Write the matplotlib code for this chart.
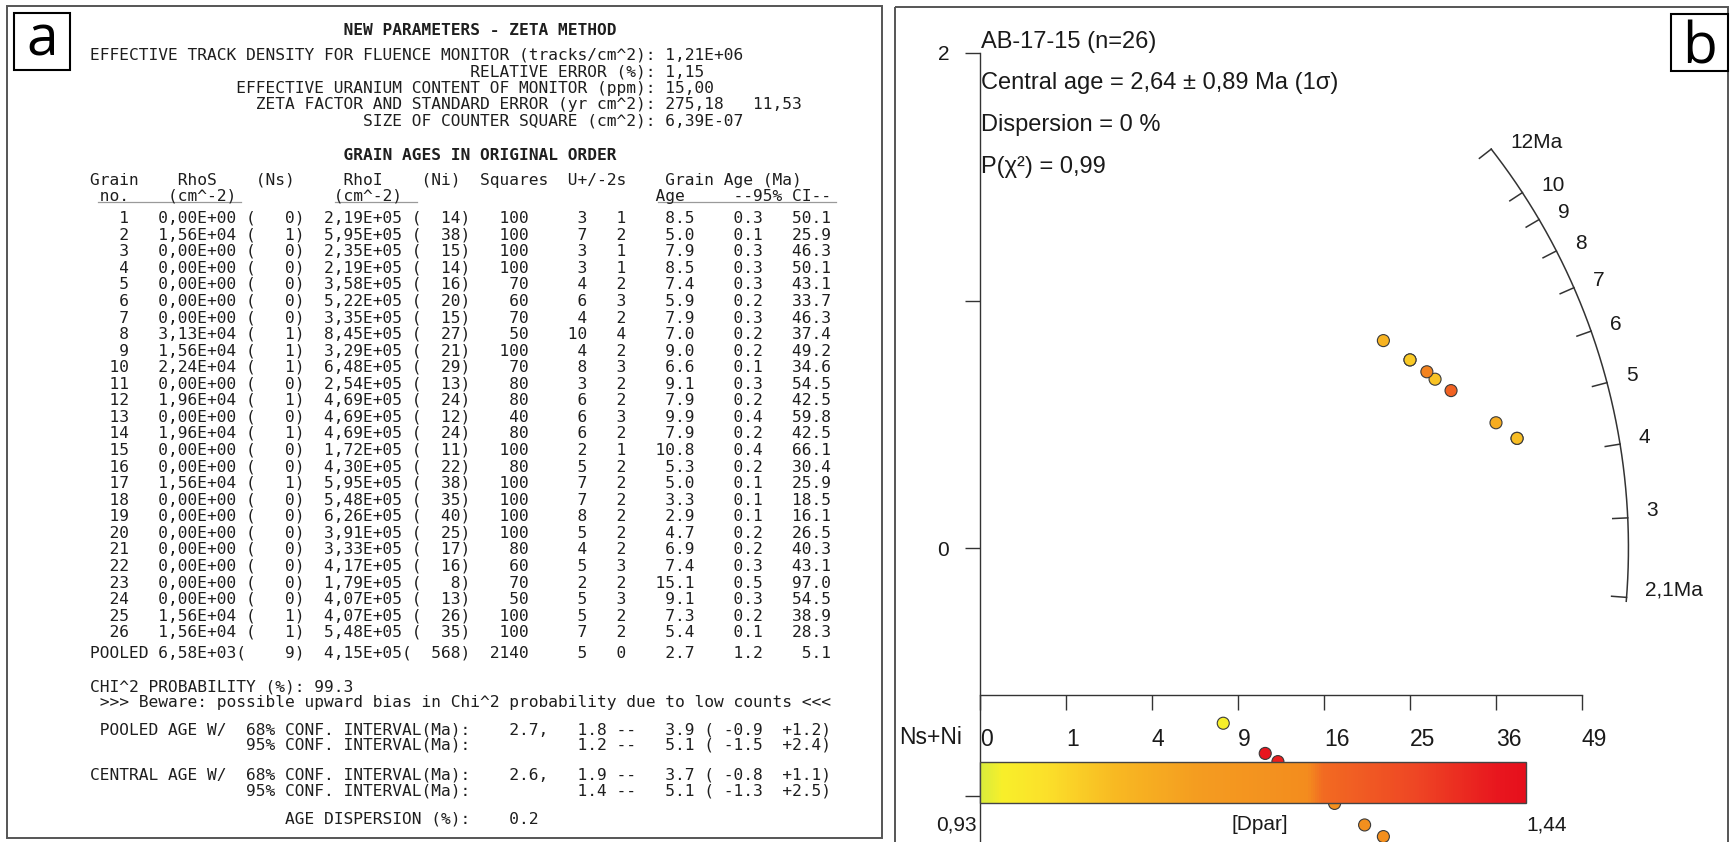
import numpy as np
import matplotlib
matplotlib.use("Agg")
import matplotlib.pyplot as plt
from matplotlib.colors import LinearSegmentedColormap, Normalize
from matplotlib.patches import Rectangle
from matplotlib.cm import ScalarMappable

plt.rcParams['font.family'] = ['Liberation Sans', 'DejaVu Sans']

# ---------------- Panel a data (zeta method table) ----------------
grain = list(range(1, 27))
rho_s = ['0,00E+00', '1,56E+04', '0,00E+00', '0,00E+00', '0,00E+00', '0,00E+00', '0,00E+00',
         '3,13E+04', '1,56E+04', '2,24E+04', '0,00E+00', '1,96E+04', '0,00E+00', '1,96E+04',
         '0,00E+00', '0,00E+00', '1,56E+04', '0,00E+00', '0,00E+00', '0,00E+00', '0,00E+00',
         '0,00E+00', '0,00E+00', '0,00E+00', '1,56E+04', '1,56E+04']
ns = [0, 1, 0, 0, 0, 0, 0, 1, 1, 1, 0, 1, 0, 1, 0, 0, 1, 0, 0, 0, 0, 0, 0, 0, 1, 1]
rho_i = ['2,19E+05', '5,95E+05', '2,35E+05', '2,19E+05', '3,58E+05', '5,22E+05', '3,35E+05',
         '8,45E+05', '3,29E+05', '6,48E+05', '2,54E+05', '4,69E+05', '4,69E+05', '4,69E+05',
         '1,72E+05', '4,30E+05', '5,95E+05', '5,48E+05', '6,26E+05', '3,91E+05', '3,33E+05',
         '4,17E+05', '1,79E+05', '4,07E+05', '4,07E+05', '5,48E+05']
ni = [14, 38, 15, 14, 16, 20, 15, 27, 21, 29, 13, 24, 12, 24, 11, 22, 38, 35, 40, 25, 17, 16, 8, 13, 26, 35]
squares = [100, 100, 100, 100, 70, 60, 70, 50, 100, 70, 80, 80, 40, 80, 100, 80, 100, 100, 100, 100,
           80, 60, 70, 50, 100, 100]
u_ppm = [3, 7, 3, 3, 4, 6, 4, 10, 4, 8, 3, 6, 6, 6, 2, 5, 7, 7, 8, 5, 4, 5, 2, 5, 5, 7]
u_2s = [1, 2, 1, 1, 2, 3, 2, 4, 2, 3, 2, 2, 3, 2, 1, 2, 2, 2, 2, 2, 2, 3, 2, 3, 2, 2]
grain_age = [8.5, 5.0, 7.9, 8.5, 7.4, 5.9, 7.9, 7.0, 9.0, 6.6, 9.1, 7.9, 9.9, 7.9, 10.8, 5.3, 5.0,
             3.3, 2.9, 4.7, 6.9, 7.4, 15.1, 9.1, 7.3, 5.4]
ci_lo = [0.3, 0.1, 0.3, 0.3, 0.3, 0.2, 0.3, 0.2, 0.2, 0.1, 0.3, 0.2, 0.4, 0.2, 0.4, 0.2, 0.1, 0.1,
         0.1, 0.2, 0.2, 0.3, 0.5, 0.3, 0.2, 0.1]
ci_hi = [50.1, 25.9, 46.3, 50.1, 43.1, 33.7, 46.3, 37.4, 49.2, 34.6, 54.5, 42.5, 59.8, 42.5, 66.1,
         30.4, 25.9, 18.5, 16.1, 26.5, 40.3, 43.1, 97.0, 54.5, 38.9, 28.3]

pooled_rho_s, pooled_ns, pooled_rho_i, pooled_ni = '6,58E+03', 9, '4,15E+05', 568
pooled_squares, pooled_u, pooled_u2s = 2140, 5, 0
pooled_age, pooled_lo, pooled_hi = 2.7, 1.2, 5.1

param_lines = [
    "EFFECTIVE TRACK DENSITY FOR FLUENCE MONITOR (tracks/cm^2): 1,21E+06",
    "                                       RELATIVE ERROR (%): 1,15",
    "               EFFECTIVE URANIUM CONTENT OF MONITOR (ppm): 15,00",
    "                 ZETA FACTOR AND STANDARD ERROR (yr cm^2): 275,18   11,53",
    "                            SIZE OF COUNTER SQUARE (cm^2): 6,39E-07",
]
title1 = "                          NEW PARAMETERS - ZETA METHOD"
title2 = "                          GRAIN AGES IN ORIGINAL ORDER"
header1 = "Grain    RhoS    (Ns)     RhoI    (Ni)  Squares  U+/-2s    Grain Age (Ma)"
header2 = " no.    (cm^-2)          (cm^-2)                          Age     --95% CI--"
chi_line = "CHI^2 PROBABILITY (%): 99.3"
beware_line = " >>> Beware: possible upward bias in Chi^2 probability due to low counts <<<"
summary_lines = [
    " POOLED AGE W/  68% CONF. INTERVAL(Ma):    2.7,   1.8 --   3.9 ( -0.9  +1.2)",
    "                95% CONF. INTERVAL(Ma):           1.2 --   5.1 ( -1.5  +2.4)",
    "CENTRAL AGE W/  68% CONF. INTERVAL(Ma):    2.6,   1.9 --   3.7 ( -0.8  +1.1)",
    "                95% CONF. INTERVAL(Ma):           1.4 --   5.1 ( -1.3  +2.5)",
    "                    AGE DISPERSION (%):    0.2",
]

# ---------------- Panel b data (radial plot) ----------------
sample_name = "AB-17-15"
central_age, central_err = 2.64, 0.89
dispersion_pct = 0
p_chi2 = 0.99
# standardised estimate of each grain
radial_y = [-0.935, 0.443, -0.968, -0.935, -1.000, -1.119, -0.968, 0.682, 0.838, 0.636, -0.900,
            0.760, -0.863, 0.760, -0.830, -1.166, 0.443, -1.480, -1.580, -1.250, -1.032, -1.000,
            -0.708, -0.900, 0.712, 0.506]
dpar = [1.10, 1.05, 1.12, 1.08, 1.15, 1.22, 1.10, 1.04, 1.07, 1.27, 1.15, 1.03, 1.40, 1.03, 1.42,
        1.22, 1.05, 1.15, 1.12, 1.10, 1.21, 1.15, 0.95, 1.10, 1.24, 1.09]
dpar_min, dpar_max = 0.93, 1.44
arc_ages = [2.1, 3, 4, 5, 6, 7, 8, 9, 10, 12]
arc_labels = ['2,1Ma', '3', '4', '5', '6', '7', '8', '9', '10', '12Ma']
nsni_ticks = [0, 1, 4, 9, 16, 25, 36, 49]
y_ticks = [-1, 0, 1, 2]
y_ticklabels = ['', '0', '', '2']

# ---------------- figure ----------------
W, H = 1730, 842
fig = plt.figure(figsize=(W / 100, H / 100), dpi=100)
fig.patch.set_facecolor('white')

bg = fig.add_axes([0, 0, 1, 1])
bg.set_xlim(0, W)
bg.set_ylim(H, 0)
bg.axis('off')

# panel frames
bg.add_patch(Rectangle((6.5, 6), 875, 832, fill=False, ec='#555555', lw=1.4))
bg.add_patch(Rectangle((895, 7), 833, 860, fill=False, ec='#555555', lw=1.4, clip_on=False))
# panel letters
bg.add_patch(Rectangle((14, 13), 56, 57, fill=False, ec='black', lw=1.5))
bg.text(42, 56, 'a', fontsize=41, family='Open Sans', ha='center', va='baseline')
bg.add_patch(Rectangle((1671, 13.5), 56.5, 57, fill=False, ec='black', lw=1.5))
bg.text(1700, 63.5, 'b', fontsize=41, family='Open Sans', ha='center', va='baseline')

# ---------------- Panel a text ----------------
mono = dict(family='DejaVu Sans Mono', fontsize=11.74, color='#1e1e1e', ha='left', va='baseline')
x0 = 90
base = 6.0


def put(y, s, **kw):
    d = dict(mono)
    d.update(kw)
    bg.text(x0, y + base, s, **d)


put(29.3, title1, weight='bold')
for k, line in enumerate(param_lines):
    put([54, 70.7, 87.3, 103.3, 120][k], line)
put(154, title2, weight='bold')
put(179, header1)
put(195, header2)
for xa, xb in [(98, 241), (335, 417), (658, 836)]:
    bg.plot([xa, xb], [202, 202], color='#9a9a9a', lw=0.9)

for i in range(len(grain)):
    row = (f"{grain[i]:>4}   {rho_s[i]} ({ns[i]:>4})  {rho_i[i]} ({ni[i]:>4})"
           f"{squares[i]:>6}{u_ppm[i]:>6}{u_2s[i]:>4}"
           f"{grain_age[i]:>7.1f}{ci_lo[i]:>7.1f}{ci_hi[i]:>7.1f}")
    put(216.7 + i * 16.56, row)
pooled = (f"POOLED {pooled_rho_s}({pooled_ns:>5})  {pooled_rho_i}({pooled_ni:>5})"
          f"{pooled_squares:>6}{pooled_u:>6}{pooled_u2s:>4}"
          f"{pooled_age:>7.1f}{pooled_lo:>7.1f}{pooled_hi:>7.1f}")
put(651.7, pooled)
put(686, chi_line)
put(700.7, beware_line)
for yy, line in zip([728.3, 743.3, 774, 790, 817.3], summary_lines):
    put(yy, line)

# ---------------- Panel b radial plot ----------------
ox, oy = 980, 548          # pixel position of the radial origin
px_x, px_y = 86.0, 247.5   # pixels per axis unit
L, R, T, B = 895, 1728, 7, 842
ax = fig.add_axes([L / W, (H - B) / H, (R - L) / W, (B - T) / H])
ax.set_xlim((L - ox) / px_x, (R - ox) / px_x)
ax.set_ylim((oy - B) / px_y, (oy - T) / px_y)
ax.patch.set_alpha(0)

for s in ['top', 'right']:
    ax.spines[s].set_visible(False)
ax.spines['left'].set_position(('data', 0))
ax.spines['left'].set_bounds(ax.get_ylim()[0], 2)
nsni_axis_y = -0.594
ax.spines['bottom'].set_position(('data', nsni_axis_y))
ax.spines['bottom'].set_bounds(0, np.sqrt(max(nsni_ticks)))
for s in ['left', 'bottom']:
    ax.spines[s].set_color('#333333')
    ax.spines[s].set_linewidth(1.0)

ax.set_yticks(y_ticks)
ax.set_yticklabels(y_ticklabels)
ax.set_xticks(np.sqrt(nsni_ticks))
ax.set_xticklabels([str(v) for v in nsni_ticks])
ax.tick_params(axis='y', length=10.8, width=1, direction='out', pad=11.5, labelsize=15,
               color='#333333', labelcolor='#1a1a1a')
ax.tick_params(axis='x', length=10.8, width=1, direction='out', pad=13, labelsize=16.5,
               color='#333333', labelcolor='#1a1a1a')
for lab in ax.get_xticklabels():
    lab.set_horizontalalignment('left')

# colour map for Dpar
cmap = LinearSegmentedColormap.from_list('dpar', [
    (0.0, '#d9ec3c'), (0.04, '#f8ef2a'), (0.12, '#fbe02a'), (0.25, '#f8b822'),
    (0.40, '#f49c20'), (0.60, '#f38c1e'), (0.63, '#f26a22'), (0.80, '#ee4624'),
    (0.95, '#e8161e'), (1.0, '#e6101c')])
norm = Normalize(dpar_min, dpar_max)

# grains
rx = np.sqrt(np.array(ns) + np.array(ni))
ax.scatter(rx, radial_y, s=75, c=dpar, cmap=cmap, norm=norm, edgecolors='#3a3a3a',
           linewidths=0.8, zorder=3, clip_on=False)

# age arc (arcsine transform, z0 at central age)
fig.canvas.draw()
p0 = ax.transData.transform((0, 0))
p1 = ax.transData.transform((1, 1))
sx, sy = p1[0] - p0[0], p1[1] - p0[1]
c_rate = pooled_ns / pooled_ni / pooled_age


def ztf(t):
    t = np.asarray(t, float)
    p = c_rate * t / (1 + c_rate * t)
    return np.arcsin(np.sqrt(p))


z0 = ztf(central_age)


def psi(t):
    m = 2 * (ztf(t) - z0)
    return np.arctan2(sy * m, sx)


arc_r = 7.54 * sx  # arc radius in pixels
ang = np.linspace(psi(min(arc_ages)) - 0.006, psi(max(arc_ages)), 300)
ax.plot(arc_r * np.cos(ang) / sx, arc_r * np.sin(ang) / sy, color='#333333', lw=1.1,
        clip_on=False)
for t, lab in zip(arc_ages, arc_labels):
    a = psi(t)
    r0, r1 = arc_r - 15, arc_r
    ax.plot([r0 * np.cos(a) / sx, r1 * np.cos(a) / sx], [r0 * np.sin(a) / sy, r1 * np.sin(a) / sy],
            color='#333333', lw=1.1, clip_on=False)
    ax.annotate(lab, (r1 * np.cos(a) / sx, r1 * np.sin(a) / sy), xytext=(13.5, 5.0),
                textcoords='offset points', ha='left', va='center', fontsize=15,
                color='#1a1a1a', annotation_clip=False)

# annotation text
txt = dict(fontsize=17, color='#1a1a1a', ha='left', va='center')
bg.text(981, 42, f"{sample_name} (n={len(grain)})", **txt)
bg.text(981, 83, f"Central age = {central_age:.2f} ± {central_err:.2f} Ma (1σ)".replace('.', ','), **txt)
bg.text(981, 125, f"Dispersion = {dispersion_pct} %", **txt)
bg.text(981, 167, f"P(χ²) = {p_chi2:.2f}".replace('.', ','), **txt)
bg.text(962, 737, "Ns+Ni", fontsize=16.5, color='#1a1a1a', ha='right', va='center')

# colour bar
cl, cr, ct, cb = 980, 1526, 761.7, 803
cax = fig.add_axes([cl / W, (H - cb) / H, (cr - cl) / W, (cb - ct) / H])
cax.set_zorder(5)
cbar = fig.colorbar(ScalarMappable(norm=norm, cmap=cmap), cax=cax, orientation='horizontal')
cbar.set_ticks([])
cbar.outline.set_edgecolor('#444444')
cbar.outline.set_linewidth(1.0)
lab_kw = dict(fontsize=15, color='#1a1a1a', va='center')
bg.text(977, 825, f"{dpar_min:.2f}".replace('.', ','), ha='right', **lab_kw)
bg.text(1260, 825, "[Dpar]", ha='center', **lab_kw)
bg.text(1526, 825, f"{dpar_max:.2f}".replace('.', ','), ha='left', **lab_kw)

fig.savefig('out.png', dpi=100, facecolor='white')
